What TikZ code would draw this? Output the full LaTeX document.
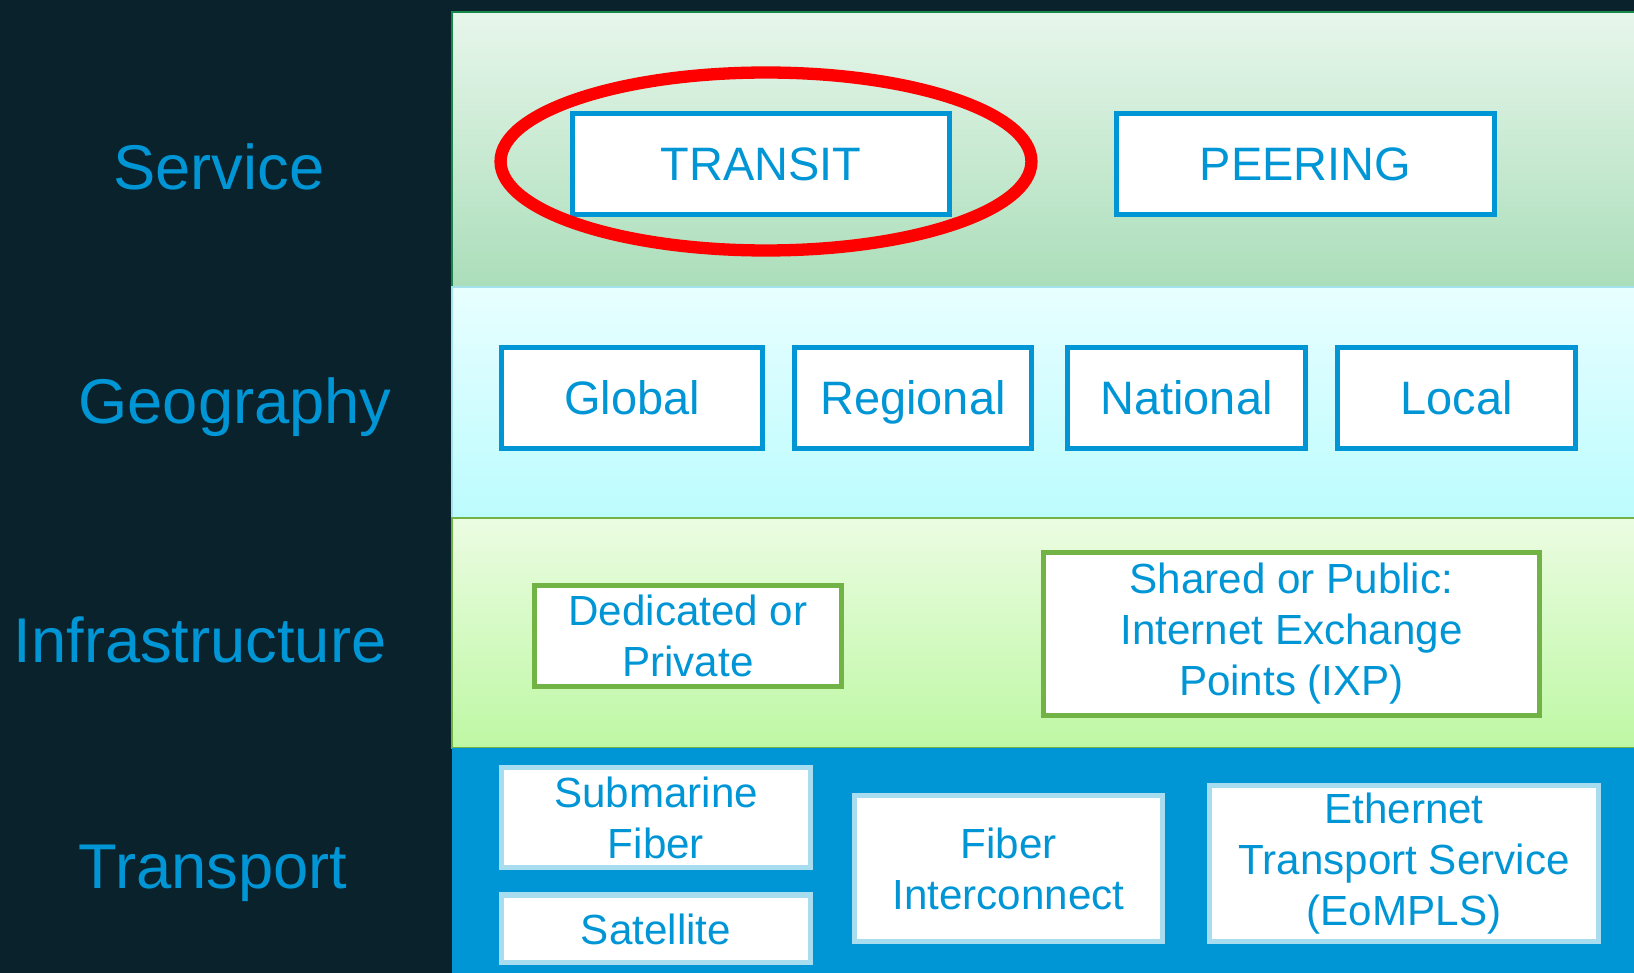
\documentclass[tikz,border=0pt]{standalone}
\usepackage{fontspec}
\setmainfont{Liberation Sans}
\usepackage{tikz}
\usetikzlibrary{positioning,shapes.geometric}

\definecolor{night}{HTML}{0A222C}
\definecolor{ciscoblue}{HTML}{0096D6}
\definecolor{svctop}{HTML}{E7F6EB}
\definecolor{svcbot}{HTML}{ABDEBA}
\definecolor{svcline}{HTML}{17874A}
\definecolor{geotop}{HTML}{E8FEFF}
\definecolor{geobot}{HTML}{BCFCFE}
\definecolor{geoline}{HTML}{A3E2EC}
\definecolor{infratop}{HTML}{EBFCE2}
\definecolor{infrabot}{HTML}{BEF8A4}
\definecolor{infraline}{HTML}{72B345}
\definecolor{paleblue}{HTML}{A8DDF0}

\begin{document}
\begin{tikzpicture}[x=0.02cm, y=-0.02cm,
    layer/.style={
      anchor=base,
      text=ciscoblue,
      font=\fontsize{36}{43}\selectfont
    },
    block/.style={
      rectangle,
      draw=ciscoblue,
      line width=2.85pt,
      fill=white,
      inner sep=0pt,
      align=center,
      text=ciscoblue,
      text height=19.2pt,
      text depth=0pt,
      minimum height=2.04cm,
      font=\fontsize{26.7}{32}\selectfont
    },
    infra/.style={block, draw=infraline, text height={}, text depth={}, font=\fontsize{24}{29}\selectfont},
    carrier/.style={block, draw=paleblue, text height={}, text depth={}, font=\fontsize{24}{29}\selectfont}
]

\clip (0,0) rectangle (1634,973);
\fill[night] (0,0) rectangle (1634,973);

%% Bands
\draw[svcline, line width=1.2pt, top color=svctop, bottom color=svcbot] (452,12) rectangle (1660,287);
\draw[geoline, line width=1.2pt, top color=geotop, bottom color=geobot] (452,287) rectangle (1660,518);
\draw[infraline, line width=1.2pt, top color=infratop, bottom color=infrabot] (452,518) rectangle (1660,748);
\fill[ciscoblue] (452,748) rectangle (1660,990);

%% Layer names
\node [layer] (service) at (219,190) {Service};
\node [layer] (geography) at (235,423) {Geography};
\node [layer] (infrastructure) at (200,662) {Infrastructure};
\node [layer] (transport) at (213,888) {Transport};

%% Service
\node [block, minimum width=7.55cm] (transit) at (761,164) {TRANSIT};
\node [block, minimum width=7.57cm] (peering) at (1305.5,164) {PEERING};

%% Geography
\node [block, minimum width=5.23cm] (global) at (632,398) {Global};
\node [block, minimum width=4.75cm] (regional) at (913,398) {Regional};
\node [block, minimum width=4.77cm] (national) at (1186.5,398) {National};
\node [block, minimum width=4.77cm] (local) at (1456.5,398) {Local};

%% Infrastructure
\node [infra, minimum width=6.15cm] (dedicated) at (688,636) {Dedicated or\\Private};
\node [infra, minimum width=9.93cm, minimum height=3.28cm] (shared) at (1291.5,634) {Shared or Public:\\Internet Exchange\\Points (IXP)};

%% Transport
\node [carrier, minimum width=6.19cm, minimum height=2.02cm] (submarine) at (656,817.5) {Submarine\\Fiber};
\node [carrier, minimum width=6.19cm, minimum height=1.36cm] (satellite) [below = 0.44cm of submarine] {Satellite};
\node [carrier, minimum width=6.17cm, minimum height=2.94cm] (fiber) at (1008.5,868.5) {Fiber\\Interconnect};
\node [carrier, minimum width=7.79cm, minimum height=3.14cm] (ethernet) at (1404,863.5) {Ethernet\\Transport Service\\(EoMPLS)};

%% Highlight
\node [ellipse, draw=red, line width=7pt, inner sep=0pt, minimum width=10.62cm, minimum height=3.56cm] (halo) at (766,161.5) {};

\end{tikzpicture}
\end{document}
